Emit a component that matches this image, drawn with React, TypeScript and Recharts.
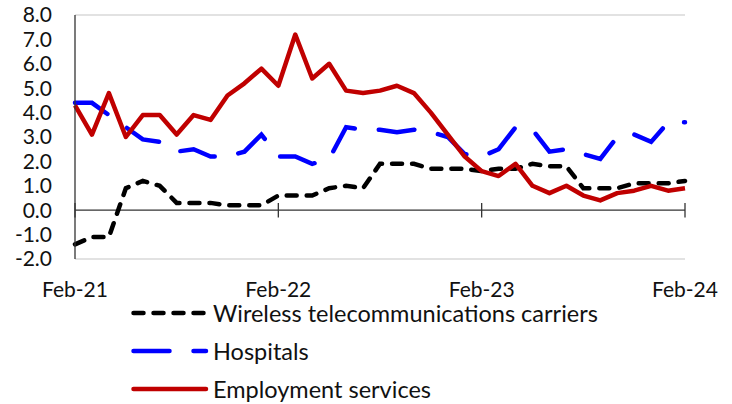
import React from "react"
import {
  LineChart,
  Line,
  XAxis,
  YAxis,
  CartesianGrid,
  ReferenceLine,
  Legend,
} from "recharts"

const months = [
  "Feb-21", "Mar-21", "Apr-21", "May-21", "Jun-21", "Jul-21", "Aug-21", "Sep-21", "Oct-21", "Nov-21", "Dec-21", "Jan-22",
  "Feb-22", "Mar-22", "Apr-22", "May-22", "Jun-22", "Jul-22", "Aug-22", "Sep-22", "Oct-22", "Nov-22", "Dec-22", "Jan-23",
  "Feb-23", "Mar-23", "Apr-23", "May-23", "Jun-23", "Jul-23", "Aug-23", "Sep-23", "Oct-23", "Nov-23", "Dec-23", "Jan-24",
  "Feb-24",
]

const wireless = [
  -1.4, -1.1, -1.1, 0.9, 1.2, 1.0, 0.3, 0.3, 0.3, 0.2, 0.2, 0.2,
  0.6, 0.6, 0.6, 0.9, 1.0, 0.9, 1.9, 1.9, 1.9, 1.7, 1.7, 1.7,
  1.6, 1.7, 1.7, 1.9, 1.8, 1.8, 0.9, 0.9, 0.9, 1.1, 1.1, 1.1,
  1.2,
]

const hospitals = [
  4.4, 4.4, 3.9, 3.4, 2.9, 2.8, 2.4, 2.5, 2.2, 2.2, 2.4, 3.1,
  2.2, 2.2, 1.9, 2.1, 3.4, 3.3, 3.3, 3.2, 3.3, 3.2, 3.0, 2.3,
  2.2, 2.5, 3.4, 3.3, 2.4, 2.5, 2.3, 2.1, 3.0, 3.1, 2.8, 3.6,
  3.6,
]

const employment = [
  4.3, 3.1, 4.8, 3.0, 3.9, 3.9, 3.1, 3.9, 3.7, 4.7, 5.2, 5.8,
  5.1, 7.2, 5.4, 6.0, 4.9, 4.8, 4.9, 5.1, 4.8, 4.0, 3.1, 2.2,
  1.6, 1.4, 1.9, 1.0, 0.7, 1.0, 0.6, 0.4, 0.7, 0.8, 1.0, 0.8,
  0.9,
]

const yTicks = [-2, -1, 0, 1, 2, 3, 4, 5, 6, 7, 8]
const xTicks = ["Feb-21", "Feb-22", "Feb-23", "Feb-24"]

const data = months.map((m, i) => ({
  month: m,
  wireless: wireless[i],
  hospitals: hospitals[i],
  employment: employment[i],
}))

const FONT = "Lato, 'Open Sans', sans-serif"

const legendItems = [
  { label: "Wireless telecommunications carriers", color: "#000000", dash: "10 10" },
  { label: "Hospitals", color: "#0000ff", dash: "36 24" },
  { label: "Employment services", color: "#c00000", dash: undefined },
]

function ChartLegend() {
  return (
    <div style={{ paddingLeft: 131, fontFamily: FONT, fontSize: 23.5, color: "#111" }}>
      {legendItems.map((it) => (
        <div key={it.label} style={{ height: 38, display: "flex", alignItems: "center" }}>
          <svg width={80} height={10} style={{ marginRight: 2 }}>
            <line
              x1={2.5}
              y1={5}
              x2={75}
              y2={5}
              stroke={it.color}
              strokeWidth={4.5}
              strokeDasharray={it.dash}
              strokeLinecap="round"
            />
          </svg>
          <span style={{ lineHeight: "20px" }}>{it.label}</span>
        </div>
      ))}
    </div>
  )
}

export default function App() {
  return (
    <div style={{ position: "absolute", left: 0, top: 0, background: "#fff" }}>
      <LineChart width={732} height={404} data={data} margin={{ top: 15, right: 47, left: 0, bottom: 0 }}>
        <CartesianGrid horizontal vertical={false} stroke="#d9d9d9" strokeWidth={1.3} />
        <XAxis
          dataKey="month"
          ticks={xTicks}
          interval={0}
          axisLine={false}
          tickLine={false}
          tickMargin={17}
          height={35}
          tick={{ fontSize: 21, fontFamily: FONT, fill: "#111" }}
        />
        <YAxis
          yAxisId="l"
          domain={[-2, 8]}
          ticks={yTicks}
          interval={0}
          width={75}
          axisLine={{ stroke: "#333", strokeWidth: 1.3 }}
          tickLine={false}
          tickMargin={17}
          tickFormatter={(v: number) => v.toFixed(1)}
          tick={{ fontSize: 21, fontFamily: FONT, fill: "#111" }}
        />
        <YAxis
          yAxisId="r"
          orientation="right"
          domain={[-2, 8]}
          width={0}
          tick={false}
          tickLine={false}
          axisLine={{ stroke: "#c8c8c8", strokeWidth: 1.3 }}
        />
        <ReferenceLine yAxisId="l" y={0} stroke="#333" strokeWidth={1.3} />
        {xTicks.map((t) => (
          <ReferenceLine
            key={t}
            yAxisId="l"
            segment={[{ x: t, y: -0.3 }, { x: t, y: 0.3 }]}
            stroke="#333"
            strokeWidth={1.3}
          />
        ))}
        <Line
          yAxisId="l"
          dataKey="wireless"
          stroke="#000000"
          strokeWidth={4.5}
          strokeDasharray="10 10"
          strokeLinecap="round"
          dot={false}
          isAnimationActive={false}
        />
        <Line
          yAxisId="l"
          dataKey="hospitals"
          stroke="#0000ff"
          strokeWidth={4.5}
          strokeDasharray="36 24"
          strokeLinecap="round"
          dot={false}
          isAnimationActive={false}
        />
        <Line
          yAxisId="l"
          dataKey="employment"
          stroke="#c00000"
          strokeWidth={4.5}
          strokeLinejoin="round"
          dot={false}
          isAnimationActive={false}
        />
        <Legend
          verticalAlign="bottom"
          height={110}
          wrapperStyle={{ left: 0, bottom: 0, width: 732 }}
          content={() => <ChartLegend />}
        />
      </LineChart>
    </div>
  )
}
